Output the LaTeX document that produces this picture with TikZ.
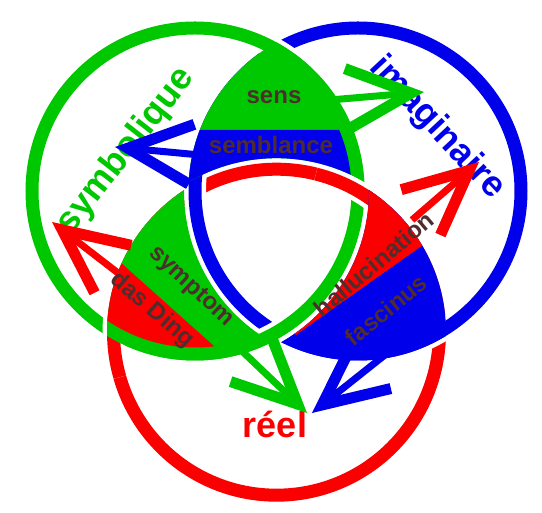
\documentclass[tikz,border=0pt]{standalone}
\usepackage{fontspec}
\setmainfont{Liberation Sans}
\usepackage{tikz}
\usetikzlibrary{arrows.meta}
\definecolor{sgreen}{RGB}{0,200,0}
\definecolor{iblue}{RGB}{0,0,235}
\definecolor{rred}{RGB}{250,0,0}
\definecolor{lensink}{RGB}{80,45,45}
\newcommand{\rr}{163}   % ring radius
\newcommand{\ro}{169.5} % outer edge of a ring
\newcommand{\ri}{156.5} % inner edge of a ring
\newcommand{\rg}{174}   % outer edge plus the white gap
\tikzset{
  ring/.style    = {line width=13pt},
  halo/.style    = {draw=white, line width=22pt},
  lens/.style    = {font=\fontsize{24}{29}\selectfont\bfseries, text=lensink, inner sep=0pt},
  regname/.style = {font=\fontsize{36}{43}\selectfont\bfseries, inner sep=0pt},
  brush/.style   = {line width=7pt, -{Straight Barb[length=64pt, width=60pt, line width=11pt]}},
}

\begin{document}
\begin{tikzpicture}[x=1pt, y=1pt]
  \fill[white] (0,0) rectangle (542,513);
  \useasboundingbox (0,0) rectangle (542,513);
  \coordinate (S) at (195,322);
  \coordinate (I) at (358,322);
  \coordinate (R) at (276.5,180.8);

  % rings: blue over red, green over blue, red over green
  \draw[halo] (R) circle (\rr);
  \draw[ring, rred] (R) circle (\rr);
  \draw[halo] (I) circle (\rr);
  \draw[ring, iblue] (I) circle (\rr);
  \draw[halo] (S) circle (\rr);
  \draw[ring, sgreen] (S) circle (\rr);
  \foreach \a in {60,180}{
    \draw[halo] ([shift={(\a-16:\rr)}]R) arc (\a-16:\a+16:\rr);
    \draw[ring, rred] ([shift={(\a-16:\rr)}]R) arc (\a-16:\a+16:\rr);
  }

  % top lens: sens / semblance
  \begin{scope}
    \clip (S) circle (\ro);
    \clip (I) circle (\ro);
    \fill[sgreen, even odd rule] (0,0) rectangle (542,513) (R) circle (\rg);
    \clip (S) circle (\ri);
    \fill[iblue, even odd rule] (0,0) rectangle (542,383) (R) circle (\rg);
  \end{scope}

  % left lens: symptom / das Ding
  \begin{scope}
    \clip (S) circle (\ro);
    \clip (R) circle (\ro);
    \fill[sgreen, even odd rule] (0,0) rectangle (542,513) (I) circle (\rg);
    \clip (S) circle (\ri);
    \fill[rred] (-70,421) -- (310,81) -- (-70,81) -- cycle;
  \end{scope}

  % right lens: hallucination / fascinus
  \begin{scope}
    \clip (I) circle (\ro);
    \clip (R) circle (\ro);
    \fill[iblue, even odd rule] (0,0) rectangle (542,513) (S) circle (\rg);
    \clip (I) circle (\ri);
    \fill[rred, even odd rule] (-97,-100) -- (683,452) -- (-97,452) -- cycle (S) circle (\rg);
  \end{scope}

  \node[regname, sgreen, rotate=52] (symb) at (126,362) {symbolique};
  \node[regname, iblue, rotate=-47] (imag) at (437,385) {imaginaire};
  \node[regname, rred] (reel) at (275,89) {réel};

  \coordinate (from-sens)  at (318,412);
  \coordinate (to-imag-g)  at (424,421);
  \coordinate (from-semb)  at (232,355);
  \coordinate (to-symb-b)  at (115,366);
  \coordinate (from-hallu) at (412,293);
  \coordinate (to-imag-r)  at (479,351);
  \coordinate (from-ding)  at (140,223);
  \coordinate (to-symb-r)  at (52,291);
  \coordinate (from-sympt) at (222,181);
  \coordinate (to-reel-g)  at (307,100);
  \coordinate (from-fasc)  at (410,178);
  \coordinate (to-reel-b)  at (312,100);

  \draw[brush, sgreen] (from-sens) -- (to-imag-g);
  \draw[brush, iblue] (from-semb) -- (to-symb-b);
  \draw[brush, rred] (from-hallu) -- (to-imag-r);
  \draw[brush, rred] (from-ding) -- (to-symb-r);
  \draw[brush, sgreen] (from-sympt) -- (to-reel-g);
  \draw[brush, iblue] (from-fasc) -- (to-reel-b);

  \node[lens] (sens) at (274,415.5) {sens};
  \node[lens] (semb) at (271,368.5) {semblance};
  \node[lens, rotate=-43] (sympt) at (191,226) {symptom};
  \node[lens, rotate=-41] (ding) at (152,203) {das Ding};
  \node[lens, rotate=40] (hallu) at (374,249) {hallucination};
  \node[lens, rotate=39] (fasc) at (386,203) {fascinus};
\end{tikzpicture}
\end{document}
